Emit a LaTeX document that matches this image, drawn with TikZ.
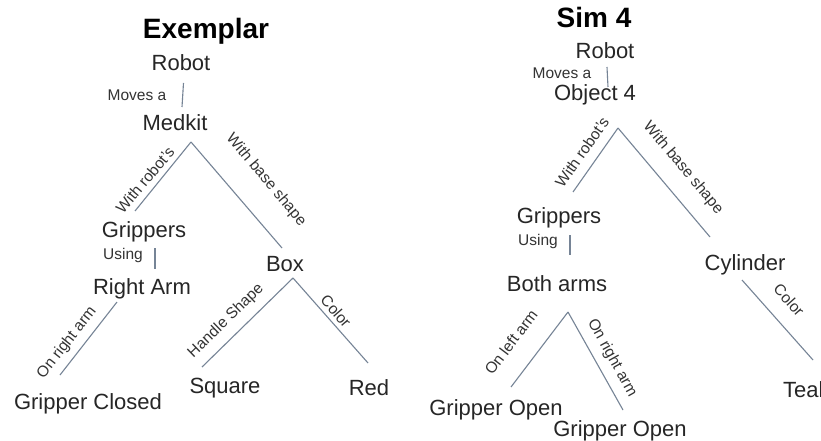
\documentclass[tikz,border=0pt]{standalone}
\usepackage{fontspec}
\setmainfont{Liberation Sans}
\definecolor{linkgray}{RGB}{118,132,150}
\begin{document}
\begin{tikzpicture}[x=1pt,y=-1pt,
  title/.style={font=\fontsize{28}{30}\selectfont\bfseries, text=black, inner sep=0pt, anchor=base},
  concept/.style={font=\fontsize{22}{24}\selectfont, text=black!85, inner sep=0pt, anchor=base},
  rel/.style={font=\fontsize{15.5}{17}\selectfont, text=black!80, inner sep=0pt},
  link/.style={draw=linkgray, line width=1.1pt}]
\clip (0,0) rectangle (821,441);
\fill[white] (0,0) rectangle (821,441);

% ---------------- Exemplar tree ----------------
\node[title]   (exTitle)   at (206,39)  {Exemplar};
\node[concept] (exRobot)   at (181,71)  {Robot};
\node[concept] (exMedkit)  at (175,130) {Medkit};
\node[concept] (exGrip)    at (144,237) {Grippers};
\node[concept] (exRArm)    at (142,294) {Right Arm};
\node[concept] (exClosed)  at (88,409)  {Gripper Closed};
\node[concept] (exBox)     at (285,271) {Box};
\node[concept] (exSquare)  at (225,393) {Square};
\node[concept] (exRed)     at (369,395) {Red};

% connector ports
\coordinate (exRobotOut)  at (183.5,83);
\coordinate (exMedkitIn)  at (182,107);
\coordinate (exMedkitOut) at (191,142);
\coordinate (exGripIn)    at (135,211);
\coordinate (exBoxIn)     at (282,248);
\coordinate (exGripOut)   at (155,248);
\coordinate (exRArmIn)    at (155,269);
\coordinate (exRArmOut)   at (117,302);
\coordinate (exClosedIn)  at (60,375);
\coordinate (exBoxOut)    at (293,278);
\coordinate (exSquareIn)  at (202,367);
\coordinate (exRedIn)     at (368,363);

\draw[link] (exRobotOut) -- (exMedkitIn);
\draw[link] (exMedkitOut) -- (exGripIn);
\draw[link] (exMedkitOut) -- (exBoxIn);
\draw[link] (exGripOut) -- (exRArmIn);
\draw[link] (exRArmOut) -- (exClosedIn);
\draw[link] (exBoxOut) -- (exSquareIn);
\draw[link] (exBoxOut) -- (exRedIn);

\node[rel] (exL1) at (137,95)  {Moves a};
\node[rel, rotate=50]  (exL2) at (145,180) {With robot's};
\node[rel, rotate=-50] (exL3) at (266,180) {With base shape};
\node[rel] (exL4) at (123,255) {Using};
\node[rel, rotate=52]  (exL5) at (67,343)  {On right arm};
\node[rel, rotate=44]  (exL6) at (226,321) {Handle Shape};
\node[rel, rotate=-49] (exL7) at (336,311) {Color};

% ---------------- Sim 4 tree ----------------
\node[title]   (smTitle)   at (594,28)  {Sim 4};
\node[concept] (smRobot)   at (605,59)  {Robot};
\node[concept] (smObject)  at (595,101) {Object 4};
\node[concept] (smGrip)    at (559,223) {Grippers};
\node[concept] (smBoth)    at (557,291) {Both arms};
\node[concept] (smOpenL)   at (496,415) {Gripper Open};
\node[concept] (smOpenR)   at (620,436) {Gripper Open};
\node[concept] (smCyl)     at (745,270) {Cylinder};
\node[concept, anchor=base west] (smTeal) at (783,397) {Teal};

% connector ports
\coordinate (smRobotOut)  at (607,67);
\coordinate (smObjectIn)  at (608,87);
\coordinate (smObjectOut) at (618,128);
\coordinate (smGripIn)    at (573,192);
\coordinate (smCylIn)     at (710,237);
\coordinate (smGripOut)   at (570,235);
\coordinate (smBothIn)    at (570,255);
\coordinate (smBothOut)   at (568,312);
\coordinate (smOpenLIn)   at (511,387);
\coordinate (smOpenRIn)   at (623,410);
\coordinate (smCylOut)    at (742,280);
\coordinate (smTealIn)    at (813,360);

\draw[link] (smRobotOut) -- (smObjectIn);
\draw[link] (smObjectOut) -- (smGripIn);
\draw[link] (smObjectOut) -- (smCylIn);
\draw[link] (smGripOut) -- (smBothIn);
\draw[link] (smBothOut) -- (smOpenLIn);
\draw[link] (smBothOut) -- (smOpenRIn);
\draw[link] (smCylOut) -- (smTealIn);

\node[rel] (smL1) at (562,73)  {Moves a};
\node[rel, rotate=55]  (smL2) at (582,152) {With robot's};
\node[rel, rotate=-50] (smL3) at (683,168) {With base shape};
\node[rel] (smL4) at (538,241) {Using};
\node[rel, rotate=53]  (smL5) at (511,342) {On left arm};
\node[rel, rotate=-61] (smL6) at (612,358) {On right arm};
\node[rel, rotate=-48] (smL7) at (789,300) {Color};
\end{tikzpicture}
\end{document}
